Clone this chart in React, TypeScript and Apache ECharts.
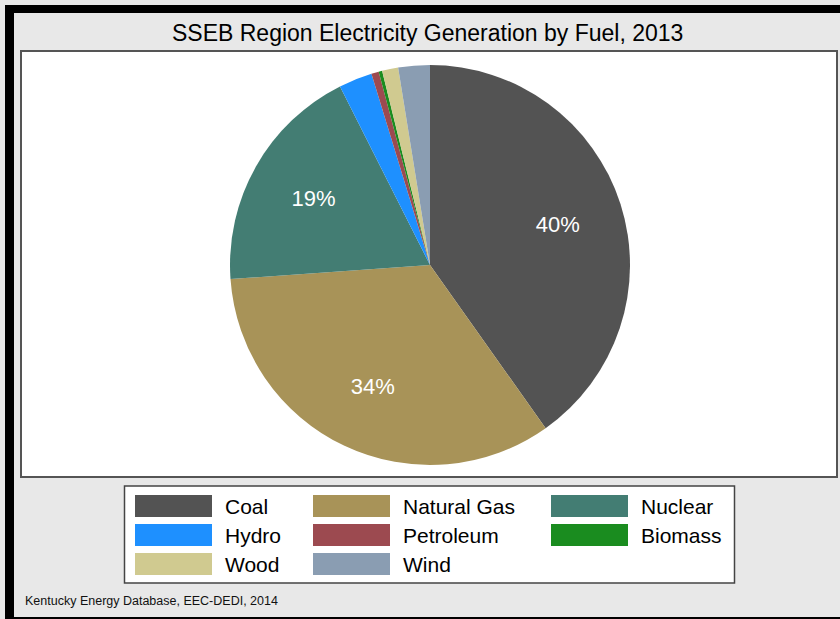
import React, { useEffect, useRef } from "react";
import * as echarts from "echarts";

const categories = ["Coal", "Natural Gas", "Nuclear", "Hydro", "Petroleum", "Biomass", "Wood", "Wind"];
const shares = [40.2, 33.7, 18.7, 2.7, 0.6, 0.28, 1.3, 2.55];
const colors = ["#535353", "#a89358", "#437d73", "#1e90ff", "#9c4a50", "#1a8c1f", "#d0ca90", "#8a9db2"];
const legendColumns = [
  ["Coal", "Hydro", "Wood"],
  ["Natural Gas", "Petroleum", "Wind"],
  ["Nuclear", "Biomass"],
];
const titleText = "SSEB Region Electricity Generation by Fuel, 2013";
const sourceText = "Kentucky Energy Database, EEC-DEDI, 2014";

const FONT = "'Liberation Sans', Arial, Helvetica, sans-serif";

export default function App() {
  const ref = useRef<HTMLDivElement>(null);

  useEffect(() => {
    if (!ref.current) return;
    const chart = echarts.init(ref.current, null, { renderer: "svg" });
    const data = categories.map((name, i) => ({
      name,
      value: shares[i],
      itemStyle: { color: colors[i] },
    }));
    const legendLefts = [135, 313, 551];
    const option: any = {
      animation: false,
      backgroundColor: "#e8e8e8",
      color: colors,
      title: {
        text: titleText,
        left: 172,
        top: 21,
        padding: 0,
        textStyle: { fontFamily: FONT, fontSize: 23, fontWeight: "normal", color: "#000" },
      },
      legend: legendColumns.map((col, i) => ({
        data: col,
        orient: "vertical",
        left: legendLefts[i],
        top: 495,
        padding: 0,
        itemWidth: 77,
        itemHeight: 22,
        itemGap: 7,
        icon: "rect",
        selectedMode: false,
        z: 5,
        textStyle: { fontFamily: FONT, fontSize: 21, color: "#000", padding: [0, 0, 0, 8] },
      })),
      graphic: [
        { type: "rect", z: 0, shape: { x: 5, y: 5, width: 835, height: 8 }, style: { fill: "#000" } },
        { type: "rect", z: 0, shape: { x: 5, y: 5, width: 9, height: 614 }, style: { fill: "#000" } },
        { type: "rect", z: 0, shape: { x: 5, y: 617, width: 835, height: 2 }, style: { fill: "#000" } },
        {
          type: "rect",
          z: 0,
          shape: { x: 21, y: 51, width: 816, height: 426 },
          style: { fill: "#fff", stroke: "#555", lineWidth: 2 },
        },
        {
          type: "rect",
          z: 0,
          shape: { x: 124.5, y: 486, width: 610, height: 97 },
          style: { fill: "#fff", stroke: "#444", lineWidth: 1.5 },
        },
        {
          type: "text",
          z: 1,
          x: 25,
          y: 601,
          style: {
            text: sourceText,
            fontFamily: FONT,
            fontSize: 12.5,
            fill: "#111",
            textVerticalAlign: "middle",
            verticalAlign: "middle",
          },
        },
      ],
      series: [
        {
          type: "pie",
          center: [430, 265],
          radius: [0, 200],
          startAngle: 90,
          clockwise: true,
          data,
          label: { show: false },
          labelLine: { show: false },
          itemStyle: { borderWidth: 0 },
          emphasis: { disabled: true },
          silent: true,
          z: 2,
        },
        {
          type: "pie",
          center: [430, 265],
          radius: [62, 200],
          startAngle: 90,
          clockwise: true,
          data: data.map((d) => ({ name: d.name, value: d.value, itemStyle: { color: "rgba(0,0,0,0)" } })),
          label: {
            show: true,
            position: "inside",
            formatter: (p: any) => (p.percent >= 5 ? Math.round(p.percent) + "%" : ""),
            color: "#fff",
            fontSize: 22,
            fontFamily: FONT,
          },
          labelLine: { show: false },
          itemStyle: { borderWidth: 0 },
          emphasis: { disabled: true },
          silent: true,
          z: 3,
        },
      ],
    };
    chart.setOption(option);
    return () => chart.dispose();
  }, []);

  return (
    <div
      ref={ref}
      style={{ position: "fixed", left: 0, top: 0, width: 840, height: 619 }}
    />
  );
}
